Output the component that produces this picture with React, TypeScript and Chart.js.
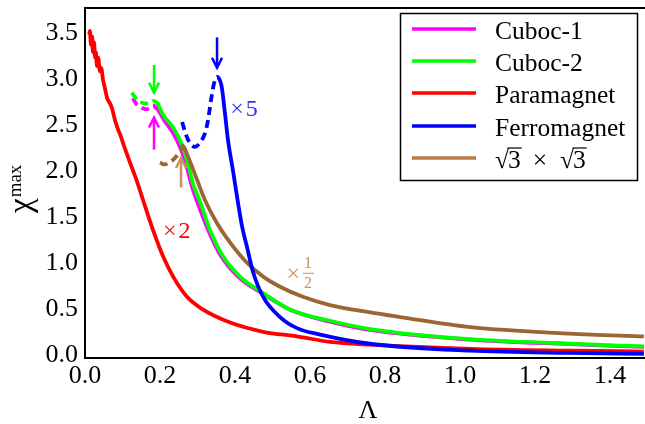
import React, { useEffect, useRef } from 'react';
import { Chart, registerables } from 'chart.js';
Chart.register(...registerables);

const FONT = '"Liberation Serif"';

const X_TICKS = [0, 0.2, 0.4, 0.6, 0.8, 1.0, 1.2, 1.4];
const Y_TICKS = [0, 0.5, 1.0, 1.5, 2.0, 2.5, 3.0, 3.5];

const LABELS = ['Cuboc-1', 'Cuboc-2', 'Paramagnet', 'Ferromagnet', '√3 × √3'];
const COLORS = ['#ff00ff', '#00ff00', '#ff0000', '#0000ff', '#9a6634'];

const CUBOC1_X = [0.128, 0.136, 0.147, 0.160, 0.173, 0.181, 0.195, 0.211, 0.235, 0.256, 0.272, 0.285, 0.304, 0.328, 0.363, 0.408, 0.475, 0.547, 0.653, 0.76, 1.027, 1.293, 1.49];
const CUBOC1_Y = [2.79, 2.73, 2.70, 2.67, 2.68, 2.71, 2.66, 2.55, 2.41, 2.23, 2.03, 1.83, 1.61, 1.36, 1.07, 0.85, 0.66, 0.49, 0.36, 0.27, 0.165, 0.115, 0.085];
const CUBOC1_DASHED = 6;

const CUBOC2_X = [0.125, 0.133, 0.141, 0.152, 0.165, 0.176, 0.181, 0.192, 0.208, 0.235, 0.259, 0.275, 0.288, 0.307, 0.333, 0.368, 0.413, 0.475, 0.547, 0.653, 0.76, 1.027, 1.293, 1.49];
const CUBOC2_Y = [2.85, 2.80, 2.76, 2.74, 2.73, 2.74, 2.76, 2.74, 2.61, 2.47, 2.28, 2.07, 1.86, 1.66, 1.36, 1.07, 0.85, 0.67, 0.49, 0.37, 0.28, 0.17, 0.12, 0.09];
const CUBOC2_DASHED = 7;

const PARA_X = [0.011, 0.013, 0.016, 0.019, 0.021, 0.024, 0.027, 0.029, 0.032, 0.035, 0.040, 0.043, 0.048, 0.053, 0.059, 0.067, 0.072, 0.080, 0.088, 0.096, 0.104, 0.120, 0.139, 0.155, 0.181, 0.208, 0.235, 0.272, 0.315, 0.387, 0.475, 0.565, 0.653, 0.76, 1.027, 1.293, 1.49];
const PARA_Y = [3.48, 3.52, 3.37, 3.46, 3.29, 3.40, 3.23, 3.29, 3.14, 3.23, 3.08, 3.12, 2.99, 2.90, 2.79, 2.73, 2.68, 2.55, 2.45, 2.37, 2.27, 2.09, 1.88, 1.68, 1.36, 1.07, 0.85, 0.63, 0.49, 0.35, 0.25, 0.20, 0.14, 0.11, 0.065, 0.045, 0.035];

const FERRO_X = [0.259, 0.267, 0.277, 0.293, 0.309, 0.320, 0.328, 0.336, 0.344, 0.352, 0.360, 0.365, 0.373, 0.381, 0.395, 0.408, 0.419, 0.432, 0.448, 0.475, 0.52, 0.565, 0.627, 0.76, 1.027, 1.293, 1.49];
const FERRO_Y = [2.53, 2.42, 2.32, 2.26, 2.32, 2.41, 2.55, 2.77, 2.95, 3.02, 2.98, 2.90, 2.63, 2.34, 1.99, 1.65, 1.39, 1.17, 0.90, 0.63, 0.41, 0.29, 0.22, 0.12, 0.045, 0.02, 0.01];
const FERRO_DASHED = 10;

const SQRT3_X = [0.200, 0.211, 0.221, 0.235, 0.248, 0.259, 0.261, 0.275, 0.299, 0.320, 0.352, 0.387, 0.432, 0.475, 0.52, 0.581, 0.653, 0.76, 0.84, 1.027, 1.293, 1.49];
const SQRT3_Y = [2.09, 2.07, 2.08, 2.12, 2.18, 2.25, 2.27, 2.15, 1.90, 1.68, 1.43, 1.22, 1.0, 0.85, 0.74, 0.63, 0.54, 0.46, 0.41, 0.30, 0.23, 0.20];
const SQRT3_DASHED = 7;

// arrows: [x, yFrom, yTo, color]
const ARROWS: [number, number, number, string][] = [
  [0.184, 3.15, 2.85, '#00ff00'],
  [0.184, 2.23, 2.58, '#ff00ff'],
  [0.352, 3.45, 3.12, '#0000ff'],
  [0.256, 1.82, 2.14, '#cc9258'],
];

const zip = (xs: number[], ys: number[]) => xs.map((x, i) => ({ x, y: ys[i] }));

export default function App() {
  const ref = useRef<HTMLCanvasElement | null>(null);
  useEffect(() => {
    document.body.style.margin = '0';
    const canvas = ref.current!;
    const dashSeg = (n: number) => ({
      borderDash: (ctx: any) => (ctx.p1DataIndex <= n - 1 ? [8, 5] : undefined),
    });
    const ds = (i: number, xs: number[], ys: number[], dashed: number, order: number) => ({
      label: LABELS[i],
      data: zip(xs, ys),
      borderColor: COLORS[i],
      backgroundColor: COLORS[i],
      borderWidth: 3.8,
      pointRadius: 0,
      cubicInterpolationMode: 'monotone' as const,
      order,
      segment: dashed > 0 ? dashSeg(dashed) : undefined,
    });

    const overlay = {
      id: 'overlay',
      afterDatasetsDraw(chart: any) {
        const c = chart.ctx as CanvasRenderingContext2D;
        const xs = chart.scales.x;
        const ys = chart.scales.y;
        const area = chart.chartArea;
        c.save();
        // top frame
        c.strokeStyle = '#000';
        c.lineWidth = 2;
        c.beginPath();
        c.moveTo(area.left - 1, area.top);
        c.lineTo(area.right, area.top);
        c.stroke();

        // arrows
        for (const [ax, y0, y1, col] of ARROWS) {
          const px = xs.getPixelForValue(ax);
          const p0 = ys.getPixelForValue(y0);
          const p1 = ys.getPixelForValue(y1);
          const dir = p1 > p0 ? 1 : -1;
          c.strokeStyle = col;
          c.lineWidth = 2.5;
          c.beginPath();
          c.moveTo(px, p0);
          c.lineTo(px, p1 - dir * 1);
          c.stroke();
          c.beginPath();
          c.moveTo(px - 5, p1 - dir * 10);
          c.lineTo(px, p1);
          c.lineTo(px + 5, p1 - dir * 10);
          c.stroke();
        }

        // annotations
        const times = (txt: string, x: number, y: number, color: string) => {
          c.fillStyle = color;
          c.font = `24px ${FONT}`;
          c.textAlign = 'left';
          c.textBaseline = 'middle';
          c.fillText('×', x, y);
          const w = c.measureText('×').width;
          if (txt) c.fillText(txt, x + w + 2, y);
          return w;
        };
        times('2', xs.getPixelForValue(0.208), ys.getPixelForValue(1.34), '#ff0000');
        times('5', xs.getPixelForValue(0.387), ys.getPixelForValue(2.66), '#2e2eff');
        const hx = xs.getPixelForValue(0.537);
        const hy = ys.getPixelForValue(0.87);
        const fw = times('', hx, hy, '#cc9258');
        c.font = `16px ${FONT}`;
        c.textAlign = 'center';
        const fx = hx + fw + 8;
        c.fillText('1', fx, hy - 11);
        c.fillText('2', fx, hy + 9);
        c.strokeStyle = '#cc9258';
        c.lineWidth = 1;
        c.beginPath();
        c.moveTo(fx - 5, hy - 1.5);
        c.lineTo(fx + 6, hy - 1.5);
        c.stroke();

        // legend
        const lx = 400, ly = 13, lw = 237, lh = 167;
        c.fillStyle = '#fff';
        c.fillRect(lx, ly, lw, lh);
        c.strokeStyle = '#000';
        c.lineWidth = 1.5;
        c.strokeRect(lx + 0.5, ly + 0.5, lw, lh);
        const rows = [29, 61, 93, 126, 158];
        c.font = `25.5px ${FONT}`;
        c.textAlign = 'left';
        c.textBaseline = 'alphabetic';
        rows.forEach((ry, i) => {
          c.strokeStyle = i === 4 ? '#b77d45' : COLORS[i];
          c.lineWidth = 3.5;
          c.beginPath();
          c.moveTo(412, ry);
          c.lineTo(476, ry);
          c.stroke();
          c.fillStyle = '#000';
          const base = ry + 10;
          if (i < 4) {
            c.fillText(LABELS[i], 495, base);
          } else {
            const drawRoot = (x: number) => {
              c.fillText('√', x, base);
              const w = c.measureText('√').width;
              const x3 = x + w - 1;
              c.fillText('3', x3, base);
              const w3 = c.measureText('3').width;
              c.lineWidth = 1.2;
              c.strokeStyle = '#000';
              c.beginPath();
              c.moveTo(x + w - 1.5, base - 20);
              c.lineTo(x3 + w3 + 1, base - 20);
              c.stroke();
            };
            drawRoot(495);
            c.textAlign = 'center';
            c.fillText('×', 540, base);
            c.textAlign = 'left';
            drawRoot(560);
          }
        });

        // axis titles
        c.fillStyle = '#000';
        c.font = `26px ${FONT}`;
        c.textAlign = 'center';
        c.textBaseline = 'middle';
        c.fillText('Λ', (area.left + area.right) / 2 + 3, 411);
        c.save();
        c.translate(31, 213);
        c.rotate(-Math.PI / 2);
        c.textAlign = 'left';
        c.textBaseline = 'alphabetic';
        c.font = `33px ${FONT}`;
        c.fillText('χ', 0, 0);
        const cw = c.measureText('χ').width;
        c.font = `19px ${FONT}`;
        c.fillText('max', cw + 1, -10);
        c.restore();
        c.restore();
      },
    };

    const chart = new Chart(canvas, {
      type: 'line',
      data: {
        datasets: [
          ds(0, CUBOC1_X, CUBOC1_Y, CUBOC1_DASHED, 4),
          ds(1, CUBOC2_X, CUBOC2_Y, CUBOC2_DASHED, 3),
          ds(2, PARA_X, PARA_Y, 0, 1),
          ds(3, FERRO_X, FERRO_Y, FERRO_DASHED, 0),
          ds(4, SQRT3_X, SQRT3_Y, SQRT3_DASHED, 2),
        ] as any,
      },
      options: {
        responsive: false,
        animation: false,
        font: { family: FONT },
        layout: { padding: { top: 8, right: 0, left: 0, bottom: 0 } },
        plugins: { legend: { display: false }, tooltip: { enabled: false } },
        scales: {
          x: {
            type: 'linear',
            min: 0,
            max: 1.493,
            grid: { display: false, drawTicks: false },
            border: { display: true, color: '#000', width: 2 },
            ticks: {
              color: '#000',
              font: { family: FONT, size: 26 },
              padding: 3,
              maxRotation: 0,
              autoSkip: false,
              callback: (v: any) => Number(v).toFixed(1),
            },
            afterBuildTicks: (s: any) => {
              s.ticks = X_TICKS.map((v) => ({ value: v }));
            },
            afterFit: (s: any) => {
              s.height = 66;
              s.paddingLeft = 0;
              s.paddingRight = 0;
            },
          },
          y: {
            type: 'linear',
            min: -0.035,
            max: 3.77,
            grid: { display: false, drawTicks: false },
            border: { display: true, color: '#000', width: 2 },
            ticks: {
              color: '#000',
              font: { family: FONT, size: 26 },
              padding: 7,
              autoSkip: false,
              callback: (v: any) => Number(v).toFixed(1),
            },
            afterBuildTicks: (s: any) => {
              s.ticks = Y_TICKS.map((v) => ({ value: v }));
            },
            afterFit: (s: any) => {
              s.width = 85;
              s.paddingTop = 0;
              s.paddingBottom = 0;
            },
          },
        },
      } as any,
      plugins: [overlay],
    });
    return () => chart.destroy();
  }, []);
  return <canvas ref={ref} width={645} height={424} style={{ display: 'block' }} />;
}
